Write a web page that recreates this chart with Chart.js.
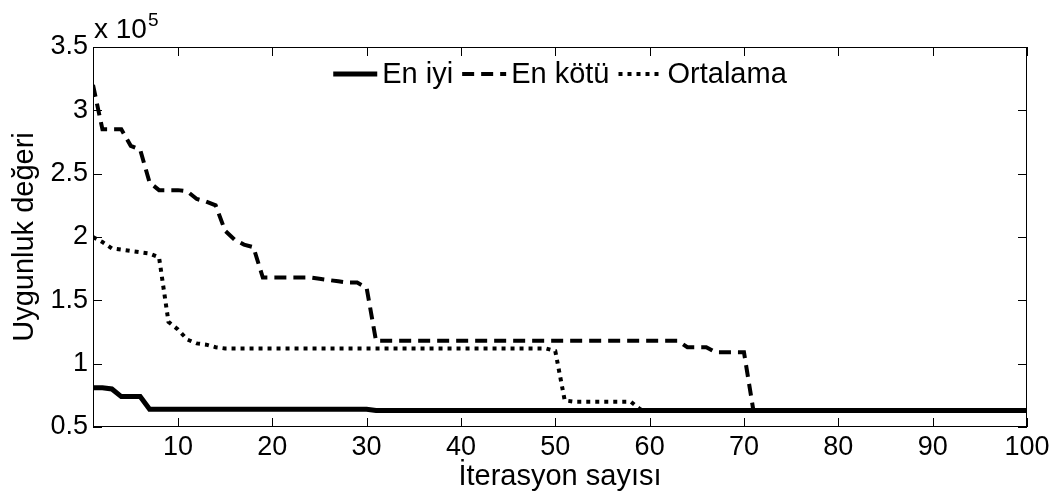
<!DOCTYPE html>
<html lang="tr">
<head>
<meta charset="UTF-8">
<title>Uygunluk değeri</title>
<script src="https://cdn.jsdelivr.net/npm/chart.js"></script>
<style>
    body { margin: 0; background: #fff; }
    canvas { display: block; }
</style>
</head>
<body>
<canvas id="fitChart" width="1057" height="494"></canvas>
<script>
    // uygunluk değerleri x 10^5, iterasyon 1..100
    const iterations = [
        1, 2, 3, 4, 5, 6, 7, 8, 9, 10,
        11, 12, 13, 14, 15, 16, 17, 18, 19, 20,
        21, 22, 23, 24, 25, 26, 27, 28, 29, 30,
        31, 32, 33, 34, 35, 36, 37, 38, 39, 40,
        41, 42, 43, 44, 45, 46, 47, 48, 49, 50,
        51, 52, 53, 54, 55, 56, 57, 58, 59, 60,
        61, 62, 63, 64, 65, 66, 67, 68, 69, 70,
        71, 72, 73, 74, 75, 76, 77, 78, 79, 80,
        81, 82, 83, 84, 85, 86, 87, 88, 89, 90,
        91, 92, 93, 94, 95, 96, 97, 98, 99, 100
    ];
    const enIyi = [
        0.81, 0.81, 0.80, 0.74, 0.74, 0.74, 0.64, 0.64, 0.64, 0.64,
        0.64, 0.64, 0.64, 0.64, 0.64, 0.64, 0.64, 0.64, 0.64, 0.64,
        0.64, 0.64, 0.64, 0.64, 0.64, 0.64, 0.64, 0.64, 0.64, 0.64,
        0.63, 0.63, 0.63, 0.63, 0.63, 0.63, 0.63, 0.63, 0.63, 0.63,
        0.63, 0.63, 0.63, 0.63, 0.63, 0.63, 0.63, 0.63, 0.63, 0.63,
        0.63, 0.63, 0.63, 0.63, 0.63, 0.63, 0.63, 0.63, 0.63, 0.63,
        0.63, 0.63, 0.63, 0.63, 0.63, 0.63, 0.63, 0.63, 0.63, 0.63,
        0.63, 0.63, 0.63, 0.63, 0.63, 0.63, 0.63, 0.63, 0.63, 0.63,
        0.63, 0.63, 0.63, 0.63, 0.63, 0.63, 0.63, 0.63, 0.63, 0.63,
        0.63, 0.63, 0.63, 0.63, 0.63, 0.63, 0.63, 0.63, 0.63, 0.63
    ];
    const enKotu = [
        3.20, 2.85, 2.85, 2.85, 2.72, 2.69, 2.43, 2.37, 2.37, 2.37,
        2.36, 2.30, 2.28, 2.25, 2.05, 1.98, 1.94, 1.92, 1.68, 1.68,
        1.68, 1.68, 1.68, 1.68, 1.67, 1.66, 1.65, 1.64, 1.64, 1.60,
        1.18, 1.18, 1.18, 1.18, 1.18, 1.18, 1.18, 1.18, 1.18, 1.18,
        1.18, 1.18, 1.18, 1.18, 1.18, 1.18, 1.18, 1.18, 1.18, 1.18,
        1.18, 1.18, 1.18, 1.18, 1.18, 1.18, 1.18, 1.18, 1.18, 1.18,
        1.18, 1.18, 1.18, 1.13, 1.13, 1.13, 1.09, 1.09, 1.09, 1.09,
        0.63, 0.63, 0.63, 0.63, 0.63, 0.63, 0.63, 0.63, 0.63, 0.63,
        0.63, 0.63, 0.63, 0.63, 0.63, 0.63, 0.63, 0.63, 0.63, 0.63,
        0.63, 0.63, 0.63, 0.63, 0.63, 0.63, 0.63, 0.63, 0.63, 0.63
    ];
    const ortalama = [
        2.00, 1.96, 1.91, 1.90, 1.89, 1.88, 1.87, 1.84, 1.33, 1.27,
        1.19, 1.16, 1.15, 1.13, 1.12, 1.12, 1.12, 1.12, 1.12, 1.12,
        1.12, 1.12, 1.12, 1.12, 1.12, 1.12, 1.12, 1.12, 1.12, 1.12,
        1.12, 1.12, 1.12, 1.12, 1.12, 1.12, 1.12, 1.12, 1.12, 1.12,
        1.12, 1.12, 1.12, 1.12, 1.12, 1.12, 1.12, 1.12, 1.12, 1.10,
        0.71, 0.70, 0.70, 0.70, 0.70, 0.70, 0.70, 0.70, 0.64, 0.63,
        0.63, 0.63, 0.63, 0.63, 0.63, 0.63, 0.63, 0.63, 0.63, 0.63,
        0.63, 0.63, 0.63, 0.63, 0.63, 0.63, 0.63, 0.63, 0.63, 0.63,
        0.63, 0.63, 0.63, 0.63, 0.63, 0.63, 0.63, 0.63, 0.63, 0.63,
        0.63, 0.63, 0.63, 0.63, 0.63, 0.63, 0.63, 0.63, 0.63, 0.63
    ];
    const xTicks = [10, 20, 30, 40, 50, 60, 70, 80, 90, 100];
    const yTicks = [0.5, 1, 1.5, 2, 2.5, 3, 3.5];

    const FONT = 'Liberation Sans, Arial, Helvetica, sans-serif';
    const TICK_LEN = 9;

    const toPoints = vals => iterations.map((it, i) => ({ x: it, y: vals[i] }));

    // çerçeve, içe dönük tik çizgileri, üstel çarpan ve açıklama
    const matlabAxes = {
        id: 'matlabAxes',
        afterDatasetsDraw(chart) {
            const { ctx, chartArea: a, scales: { x, y } } = chart;
            ctx.save();
            ctx.strokeStyle = '#000';
            ctx.lineWidth = 1;
            ctx.setLineDash([]);
            ctx.strokeRect(a.left + 0.5, a.top + 0.5, a.right - a.left - 1, a.bottom - a.top - 1);

            ctx.beginPath();
            x.ticks.forEach(t => {
                const px = Math.round(x.getPixelForValue(t.value)) + 0.5;
                ctx.moveTo(px, a.bottom); ctx.lineTo(px, a.bottom - TICK_LEN);
                ctx.moveTo(px, a.top); ctx.lineTo(px, a.top + TICK_LEN);
            });
            y.ticks.forEach(t => {
                const py = Math.round(y.getPixelForValue(t.value)) + 0.5;
                ctx.moveTo(a.left, py); ctx.lineTo(a.left + TICK_LEN, py);
                ctx.moveTo(a.right, py); ctx.lineTo(a.right - TICK_LEN, py);
            });
            ctx.stroke();

            // x 10^5
            ctx.fillStyle = '#000';
            ctx.textBaseline = 'alphabetic';
            ctx.font = '28px ' + FONT;
            ctx.fillText('x 10', a.left + 1, a.top - 9);
            const w = ctx.measureText('x 10').width;
            ctx.font = '19px ' + FONT;
            ctx.fillText('5', a.left + 2 + w, a.top - 21);

            // açıklama
            const sampleLen = 44, textGap = 5, itemGap = 9;
            ctx.font = '29px ' + FONT;
            const items = chart.data.datasets.map(ds => ({
                ds, tw: ctx.measureText(ds.label).width
            }));
            const total = items.reduce((s, it) => s + sampleLen + textGap + it.tw, 0) + itemGap * (items.length - 1);
            let cx = (a.left + a.right) / 2 - total / 2;
            const cy = a.top + 27;
            ctx.textBaseline = 'middle';
            items.forEach(({ ds, tw }) => {
                ctx.beginPath();
                ctx.lineWidth = ds.borderWidth;
                ctx.setLineDash(ds.borderDash || []);
                ctx.moveTo(cx, cy);
                ctx.lineTo(cx + sampleLen, cy);
                ctx.stroke();
                ctx.setLineDash([]);
                ctx.fillText(ds.label, cx + sampleLen + textGap, cy + 1);
                cx += sampleLen + textGap + tw + itemGap;
            });
            ctx.restore();
        }
    };

    new Chart(document.getElementById('fitChart'), {
        type: 'line',
        data: {
            datasets: [
                { label: 'En iyi', data: toPoints(enIyi), borderColor: '#000', borderWidth: 5, borderDash: [] },
                { label: 'En kötü', data: toPoints(enKotu), borderColor: '#000', borderWidth: 4, borderDash: [12, 7] },
                { label: 'Ortalama', data: toPoints(ortalama), borderColor: '#000', borderWidth: 4, borderDash: [4, 5] }
            ]
        },
        options: {
            responsive: false,
            animation: false,
            devicePixelRatio: 1,
            elements: { point: { radius: 0 }, line: { tension: 0 } },
            layout: { padding: { top: 47, right: 30, left: 0, bottom: 0 } },
            plugins: { legend: { display: false }, tooltip: { enabled: false } },
            scales: {
                x: {
                    type: 'linear',
                    min: 1,
                    max: 100,
                    grid: { display: false, drawTicks: false },
                    border: { display: false },
                    afterBuildTicks: s => { s.ticks = xTicks.map(v => ({ value: v })); },
                    afterFit: s => { s.height = 67; },
                    ticks: {
                        color: '#000', font: { family: FONT, size: 27 }, padding: 4,
                        maxRotation: 0, autoSkip: false, callback: v => String(v)
                    },
                    title: {
                        display: true, text: 'İterasyon sayısı', color: '#000',
                        font: { family: FONT, size: 29 }, padding: { top: 0, bottom: 0 }
                    }
                },
                y: {
                    min: 0.5,
                    max: 3.5,
                    grid: { display: false, drawTicks: false },
                    border: { display: false },
                    afterBuildTicks: s => { s.ticks = yTicks.map(v => ({ value: v })); },
                    afterFit: s => { s.width = 93; },
                    ticks: { color: '#000', font: { family: FONT, size: 27 }, padding: 5, callback: v => String(v) },
                    title: {
                        display: true, text: 'Uygunluk değeri', color: '#000',
                        font: { family: FONT, size: 29 }, padding: { top: 8, bottom: 0 }
                    }
                }
            }
        },
        plugins: [matlabAxes]
    });
</script>
</body>
</html>
